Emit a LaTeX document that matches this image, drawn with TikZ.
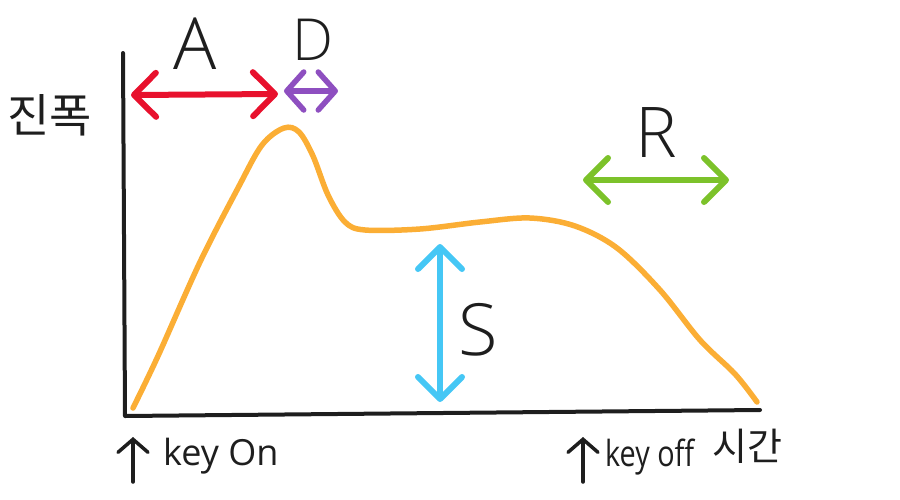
\documentclass[tikz,border=0pt]{standalone}
\usepackage{fontspec}
\setmainfont{Open Sans}
\newfontfamily\kr{Noto Sans CJK KR}
\usetikzlibrary{arrows.meta}
\definecolor{envorange}{HTML}{FBAE35}
\definecolor{ared}{HTML}{E8112D}
\definecolor{dpurple}{HTML}{8E4FC0}
\definecolor{sblue}{HTML}{45C7F5}
\definecolor{rgreen}{HTML}{7CC22A}
\definecolor{ink}{HTML}{1E1E1E}
\tikzset{
  axisline/.style={draw=ink, line width=4pt, line cap=round, line join=round},
  envline/.style={draw=envorange, line width=5.5pt, line cap=round, line join=round},
  span/.style={line width=6pt, line cap=round, line join=round,
    {Straight Barb[length=22pt,width=44pt,line cap=round,line join=round]}-{Straight Barb[length=22pt,width=44pt,line cap=round,line join=round]}},
  smallspan/.style={line width=5.5pt, line cap=round, line join=round,
    {Straight Barb[length=17pt,width=38pt,line cap=round,line join=round]}-{Straight Barb[length=17pt,width=38pt,line cap=round,line join=round]}},
  biglabel/.style={text=ink, inner sep=0pt, font=\fontsize{72}{72}\selectfont\fontspec{Open Sans Light}},
  keylabel/.style={text=ink, inner sep=0pt, anchor=west, font=\fontsize{36}{36}\selectfont},
  krlabel/.style={text=ink, inner sep=0pt, font=\fontsize{38}{38}\selectfont\kr}
}
\begin{document}
\begin{tikzpicture}[x=1pt,y=-1pt]
\useasboundingbox (0,0) rectangle (900,499);
% axes
\coordinate (ytop) at (123,53);
\coordinate (orig) at (125,416);
\coordinate (xend) at (760,410);
\draw[axisline] (ytop) -- (orig) -- (xend);
% envelope
\draw[envline] plot[smooth, tension=0.55] coordinates {
 (133,408) (158,356) (200,262) (238,188) (262,145) (284,128) (299,132) (313,156)
 (328,195) (345,222) (365,230) (420,229) (480,222) (530,218) (575,226)
 (617,248) (660,290) (700,340) (735,374) (757,402)};
% A
\coordinate (a1) at (131,95);
\coordinate (a2) at (278,94);
\draw[span, draw=ared] (a1) -- (a2);
\node[biglabel] (A) at (195,44) {A};
% D
\coordinate (d1) at (284,91);
\coordinate (d2) at (338,91);
\draw[smallspan, draw=dpurple] (d1) -- (d2);
\node[biglabel, font=\fontsize{58}{58}\selectfont\fontspec{Open Sans Light}] (D) at (313,40) {D};
% S
\coordinate (s1) at (440,244);
\coordinate (s2) at (440,402);
\draw[span, draw=sblue] (s1) -- (s2);
\node[biglabel] (S) at (478,330) {S};
% R
\coordinate (r1) at (583,180);
\coordinate (r2) at (729,180);
\draw[span, draw=rgreen] (r1) -- (r2);
\node[biglabel, font=\fontsize{70}{70}\selectfont\fontspec{Open Sans Light}] (R) at (656,133) {R};
% y label
\node[krlabel, font=\fontsize{46}{46}\selectfont\kr] (amp) at (50,115) {진폭};
% key on
\coordinate (on1) at (133,482);
\coordinate (on2) at (133,437);
\draw[axisline, line width=3.5pt, -{Straight Barb[length=13pt,width=30pt,line cap=round]}] (on1) -- (on2);
\node[keylabel] (keyon) at (163,456) {key On};
% key off
\coordinate (off1) at (583,482);
\coordinate (off2) at (583,437);
\draw[axisline, line width=3.5pt, -{Straight Barb[length=13pt,width=30pt,line cap=round]}] (off1) -- (off2);
\node[keylabel, xscale=0.8] (keyoff) at (605,457) {key off};
\node[krlabel, anchor=west] (time) at (712,446) {시간};
\end{tikzpicture}
\end{document}
